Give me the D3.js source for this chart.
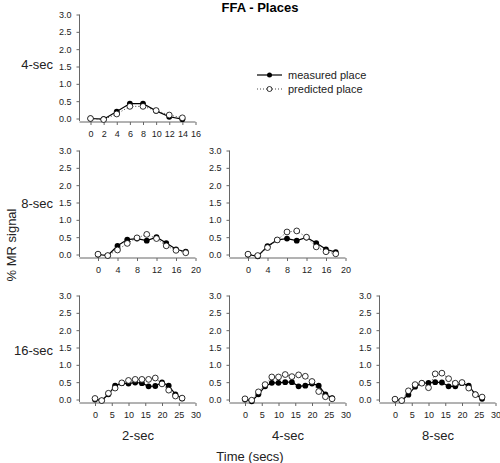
<!DOCTYPE html>
<html><head><meta charset="utf-8">
<script src="https://cdn.jsdelivr.net/npm/d3@7"></script>
<style>
html,body{margin:0;padding:0;background:#fff;}
svg{display:block;font-family:"Liberation Sans",Arial,sans-serif;}
</style></head>
<body><svg id="c" width="500" height="463"></svg>
<script>
// ---- data ----
const title = "FFA - Places";
const rowLabels = ["4-sec", "8-sec", "16-sec"];   // stimulus duration
const colLabels = ["2-sec", "4-sec", "8-sec"];    // column labels
const yTicks = [0.0, 0.5, 1.0, 1.5, 2.0, 2.5, 3.0];
const xTicks4 = [0, 2, 4, 6, 8, 10, 12, 14, 16];
const xTicks8 = [0, 4, 8, 12, 16, 20];
const xTicks16 = [0, 5, 10, 15, 20, 25, 30];
const time4 = [0, 2, 4, 6, 8, 10, 12, 14];
const time8 = [0, 2, 4, 6, 8, 10, 12, 14, 16, 18];
const time16 = [0, 2, 4, 6, 8, 10, 12, 14, 16, 18, 20, 22, 24, 26];

const measured_4s_2s  = [0.00, -0.02, 0.20, 0.43, 0.43, 0.22, 0.05, -0.02];
const predicted_4s_2s = [0.00, -0.03, 0.13, 0.35, 0.35, 0.23, 0.10, 0.02];

const measured_8s_2s  = [0.00, -0.03, 0.25, 0.43, 0.46, 0.40, 0.50, 0.33, 0.15, 0.08];
const predicted_8s_2s = [0.01, -0.03, 0.13, 0.32, 0.48, 0.58, 0.46, 0.25, 0.12, 0.05];

const measured_8s_4s  = [0.00, -0.05, 0.24, 0.42, 0.46, 0.40, 0.49, 0.33, 0.15, 0.07];
const predicted_8s_4s = [0.01, -0.03, 0.20, 0.42, 0.65, 0.68, 0.50, 0.22, 0.08, 0.02];

const measured_16s_2s  = [0.00, -0.03, 0.15, 0.40, 0.47, 0.46, 0.49, 0.47, 0.38, 0.39, 0.49, 0.40, 0.15, 0.03];
const predicted_16s_2s = [0.03, -0.03, 0.18, 0.33, 0.48, 0.55, 0.58, 0.58, 0.58, 0.62, 0.45, 0.27, 0.10, 0.04];

const measured_16s_4s  = [0.00, -0.05, 0.15, 0.38, 0.48, 0.48, 0.50, 0.50, 0.38, 0.40, 0.46, 0.40, 0.15, 0.04];
const predicted_16s_4s = [0.02, -0.02, 0.22, 0.43, 0.65, 0.65, 0.72, 0.66, 0.71, 0.67, 0.52, 0.23, 0.08, 0.02];

const measured_16s_8s  = [0.00, -0.03, 0.14, 0.37, 0.47, 0.48, 0.50, 0.49, 0.38, 0.38, 0.47, 0.40, 0.15, 0.02];
const predicted_16s_8s = [0.01, -0.03, 0.25, 0.43, 0.47, 0.34, 0.74, 0.76, 0.60, 0.47, 0.49, 0.33, 0.14, 0.07];

const legendLabels = ["measured place", "predicted place"];

// ---- layout ----
const panels = [
  {row: 0, col: 0, t: time4,  m: measured_4s_2s,  p: predicted_4s_2s,  ticks: xTicks4},
  {row: 1, col: 0, t: time8,  m: measured_8s_2s,  p: predicted_8s_2s,  ticks: xTicks8},
  {row: 1, col: 1, t: time8,  m: measured_8s_4s,  p: predicted_8s_4s,  ticks: xTicks8},
  {row: 2, col: 0, t: time16, m: measured_16s_2s, p: predicted_16s_2s, ticks: xTicks16},
  {row: 2, col: 1, t: time16, m: measured_16s_4s, p: predicted_16s_4s, ticks: xTicks16},
  {row: 2, col: 2, t: time16, m: measured_16s_8s, p: predicted_16s_8s, ticks: xTicks16}
];
const colLeft = [79.5, 229.5, 379.5];
const rowTop = [14.5, 150.5, 295.5];
const plotW = 116;
const plotH = 104;            // 0 -> 3.0
const xOffsets = [11, 18.5, 15.5]; // px from y axis to x=0 per row

const svg = d3.select("#c");
const axisColor = "#666";
const textColor = "#222";
const tickFont = "9px";

panels.forEach(P => {
  const L = colLeft[P.col], T = rowTop[P.row];
  const xmax = P.ticks[P.ticks.length - 1];
  const x = d3.scaleLinear().domain([0, xmax]).range([L + xOffsets[P.row], L + plotW]);
  const y = d3.scaleLinear().domain([0, 3]).range([T + plotH, T]);
  const g = svg.append("g");
  const axisY = y(0) + 3.5;

  // y axis
  const ya = g.append("g").attr("transform", `translate(${L},0)`)
    .call(d3.axisLeft(y).tickValues(yTicks).tickFormat(d3.format(".1f")).tickSize(3).tickPadding(5).tickSizeOuter(0));
  ya.select(".domain").attr("stroke", axisColor).attr("d", `M0,${y(3)}V${axisY - 1}`);
  ya.selectAll(".tick line").attr("stroke", axisColor);
  ya.selectAll(".tick text").attr("fill", textColor).style("font-size", tickFont).style("font-family", "Liberation Sans, Arial, sans-serif");

  // x axis
  const xa = g.append("g").attr("transform", `translate(0,${axisY})`)
    .call(d3.axisBottom(x).tickValues(P.ticks).tickSize(3).tickPadding(6).tickSizeOuter(0));
  xa.select(".domain").attr("stroke", axisColor).attr("d", `M${L},0H${x(xmax)}`);
  xa.selectAll(".tick line").attr("stroke", axisColor);
  xa.selectAll(".tick text").attr("fill", textColor).style("font-size", tickFont).style("font-family", "Liberation Sans, Arial, sans-serif");

  const mData = P.t.map((t, i) => [t, P.m[i]]);
  const pData = P.t.map((t, i) => [t, P.p[i]]);
  const line = d3.line().x(d => x(d[0])).y(d => y(d[1]));

  g.append("path").datum(mData).attr("d", line).attr("fill", "none").attr("stroke", "#000").attr("stroke-width", 1.2);
  g.append("path").datum(pData).attr("d", line).attr("fill", "none").attr("stroke", "#333").attr("stroke-width", 0.9).attr("stroke-dasharray", "1,2");
  g.selectAll(".m").data(mData).join("circle").attr("cx", d => x(d[0])).attr("cy", d => y(d[1])).attr("r", 2.9).attr("fill", "#000");
  g.selectAll(".p").data(pData).join("circle").attr("cx", d => x(d[0])).attr("cy", d => y(d[1])).attr("r", 2.9).attr("fill", "#fff").attr("stroke", "#000").attr("stroke-width", 0.8);
});

// title
svg.append("text").attr("x", 260).attr("y", 12).attr("text-anchor", "middle")
  .style("font-size", "13px").style("font-weight", "bold").attr("fill", "#000").text(title);

// row labels
const rowLabelY = [64, 203, 350];
rowLabels.forEach((r, i) => {
  svg.append("text").attr("x", 53).attr("y", rowLabelY[i] + 4.5).attr("text-anchor", "end")
    .style("font-size", "13px").attr("fill", textColor).text(r);
});
// column labels
const colLabelX = [138, 288, 438];
colLabels.forEach((c, i) => {
  svg.append("text").attr("x", colLabelX[i]).attr("y", 440).attr("text-anchor", "middle")
    .style("font-size", "13px").attr("fill", textColor).text(c);
});
// axis titles
svg.append("text").attr("x", 250).attr("y", 461).attr("text-anchor", "middle")
  .style("font-size", "13px").attr("fill", textColor).text("Time (secs)");
svg.append("text").attr("transform", "translate(16,245) rotate(-90)").attr("text-anchor", "middle")
  .style("font-size", "13px").attr("fill", textColor).text("% MR signal");

// legend
const lg = svg.append("g");
const legY = [75, 89];
lg.append("line").attr("x1", 257).attr("x2", 282).attr("y1", legY[0]).attr("y2", legY[0]).attr("stroke", "#000").attr("stroke-width", 1.2);
lg.append("circle").attr("cx", 269.5).attr("cy", legY[0]).attr("r", 2.5).attr("fill", "#000");
lg.append("line").attr("x1", 257).attr("x2", 282).attr("y1", legY[1]).attr("y2", legY[1]).attr("stroke", "#333").attr("stroke-width", 0.9).attr("stroke-dasharray", "1,2");
lg.append("circle").attr("cx", 269.5).attr("cy", legY[1]).attr("r", 2.5).attr("fill", "#fff").attr("stroke", "#000").attr("stroke-width", 0.8);
legendLabels.forEach((l, i) => {
  lg.append("text").attr("x", 288).attr("y", legY[i] + 4).style("font-size", "11px").attr("fill", textColor).text(l);
});
</script></body></html>
